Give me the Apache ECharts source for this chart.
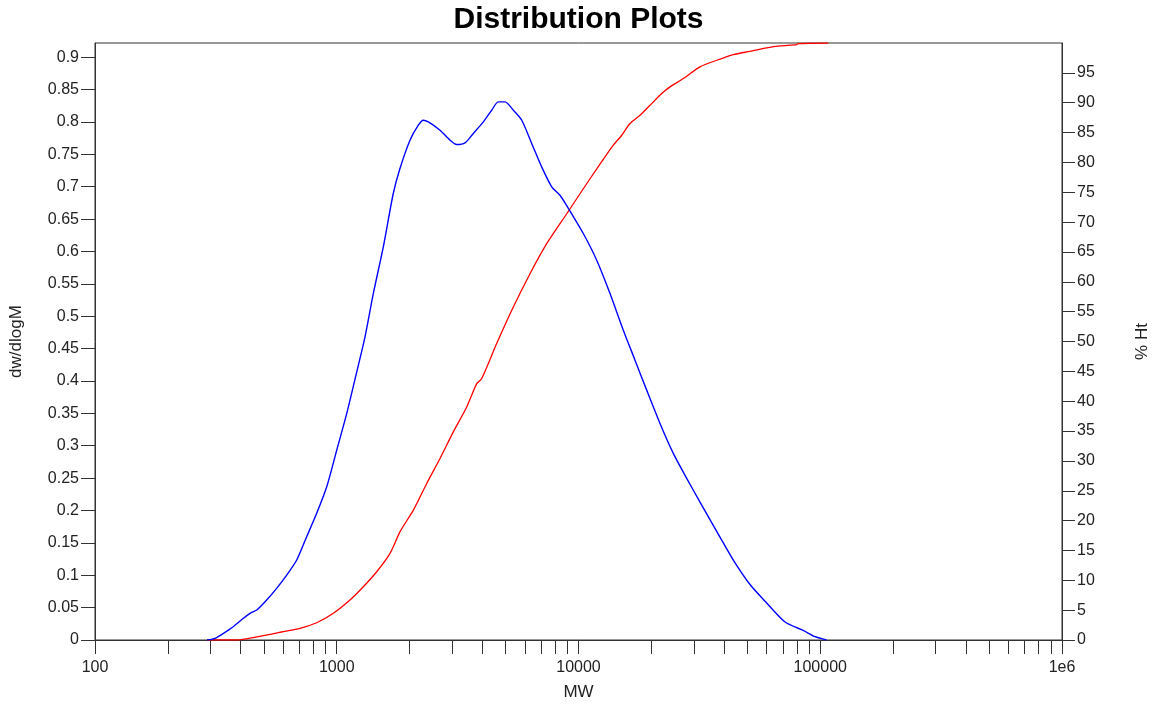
<!DOCTYPE html>
<html>
<head>
<meta charset="utf-8">
<script src="https://cdn.jsdelivr.net/npm/echarts@6/dist/echarts.min.js"></script>
<style>
html,body{margin:0;padding:0;background:#fff;}
#chart{width:1157px;height:707px;}
</style>
</head>
<body>
<div id="chart"></div>
<script>
// MW values (x) and dw/dlogM values for the blue curve
const blueMW = [291, 314, 340, 373, 411, 438, 467, 513, 564, 621, 683, 751, 826, 909, 1000, 1100, 1190, 1309, 1417, 1558, 1713, 1826, 2009, 2175, 2280, 2392, 2674, 2941, 3135, 3393, 3672, 4039, 4375, 4660, 4966, 5375, 5824, 6404, 7043, 7749, 8383, 9223, 10469, 11894, 13501, 15324, 17130, 19148, 21736, 24671, 28030, 31810, 38480, 43690, 51420, 59410, 71290, 85410, 95210, 106220];
const blueVal = [0, 0.0026, 0.0103, 0.0205, 0.0335, 0.0412, 0.0463, 0.0617, 0.0798, 0.1003, 0.1235, 0.1595, 0.1956, 0.2366, 0.2933, 0.3500, 0.4029, 0.4682, 0.5352, 0.6071, 0.6896, 0.7282, 0.7719, 0.7950, 0.8027, 0.8001, 0.7873, 0.7719, 0.7652, 0.7677, 0.7822, 0.8001, 0.8182, 0.8310, 0.8310, 0.8182, 0.8027, 0.7668, 0.7306, 0.6998, 0.6869, 0.6625, 0.6278, 0.5866, 0.5352, 0.4785, 0.4322, 0.3859, 0.3345, 0.2882, 0.2496, 0.2130, 0.1590, 0.1235, 0.0849, 0.0591, 0.0282, 0.0144, 0.0051, 0];

// MW values (x) and cumulative % Ht for the red curve
const redMW = [291, 387, 457, 601, 705, 826, 968, 1134, 1288, 1463, 1661, 1826, 2074, 2356, 2674, 3035, 3448, 3793, 3977, 4587, 5375, 6301, 7387, 8940, 10144, 11894, 12875, 13931, 15094, 16331, 17965, 19761, 22091, 23903, 27139, 31810, 37301, 43690, 51220, 60060, 68170, 79950, 81170, 107960];
const redVal = [0, 0, 0.45, 1.39, 1.96, 2.89, 4.47, 6.69, 8.92, 11.43, 14.51, 18.12, 21.75, 26.22, 30.40, 34.86, 39.04, 42.95, 43.79, 49.65, 55.77, 61.36, 66.38, 71.40, 74.75, 78.93, 80.94, 82.88, 84.55, 86.51, 87.90, 89.57, 91.53, 92.65, 94.04, 96.00, 97.11, 98.06, 98.61, 99.18, 99.51, 99.73, 99.90, 100];

// Axis ticks and labels
const xTickValues = [100,200,300,400,500,600,700,800,900,1000,2000,3000,4000,5000,6000,7000,8000,9000,10000,20000,30000,40000,50000,60000,70000,80000,90000,100000,200000,300000,400000,500000,600000,700000,800000,900000,1000000];
const xLabelValues = [100, 1000, 10000, 100000, 1000000];
const xLabelTexts = ['100', '1000', '10000', '100000', '1e6'];
const leftTicks = [0,0.05,0.1,0.15,0.2,0.25,0.3,0.35,0.4,0.45,0.5,0.55,0.6,0.65,0.7,0.75,0.8,0.85,0.9];
const rightTicks = [0,5,10,15,20,25,30,35,40,45,50,55,60,65,70,75,80,85,90,95];

const blueData = blueMW.map((m, i) => [m, blueVal[i]]);
const redData = redMW.map((m, i) => [m, redVal[i]]);

const FONT = 'Liberation Sans, Arial, sans-serif';
const axisColor = '#333';
const labelStyle = { color: '#222', fontSize: 16, fontFamily: FONT };
const nameStyle = { color: '#222', fontSize: 17, fontFamily: FONT };

const chart = echarts.init(document.getElementById('chart'), null, { renderer: 'canvas' });
chart.setOption({
  animation: false,
  backgroundColor: '#fff',
  title: {
    text: 'Distribution Plots',
    left: 'center',
    top: 0,
    textStyle: { fontSize: 30, fontWeight: 'bold', color: '#000', fontFamily: FONT }
  },
  grid: {
    left: 95, right: 95, top: 43, bottom: 67,
    containLabel: false,
    outerBoundsMode: 'none',
    show: true, borderColor: axisColor, borderWidth: 1, backgroundColor: 'transparent'
  },
  xAxis: {
    type: 'log',
    logBase: 10,
    min: 100,
    max: 1000000,
    name: 'MW',
    nameLocation: 'middle',
    nameGap: 44,
    nameTextStyle: nameStyle,
    axisLine: { show: true, lineStyle: { color: axisColor, width: 1 } },
    axisTick: { show: true, length: 14, customValues: xTickValues, lineStyle: { color: axisColor } },
    axisLabel: Object.assign({
      margin: 20,
      customValues: xLabelValues,
      formatter: function (v) {
        const idx = xLabelValues.findIndex(x => Math.abs(x - v) / x < 1e-6);
        return idx >= 0 ? xLabelTexts[idx] : '';
      }
    }, labelStyle),
    splitLine: { show: false },
    minorTick: { show: false },
    minorSplitLine: { show: false }
  },
  yAxis: [
    {
      type: 'value',
      min: 0,
      max: 0.922,
      position: 'left',
      name: 'dw/dlogM',
      nameLocation: 'middle',
      nameRotate: 90,
      nameGap: 70,
      nameTextStyle: nameStyle,
      axisLine: { show: true, lineStyle: { color: axisColor } },
      axisTick: { show: true, length: 14, customValues: leftTicks, lineStyle: { color: axisColor } },
      axisLabel: Object.assign({ margin: 16, customValues: leftTicks }, labelStyle),
      splitLine: { show: false }
    },
    {
      type: 'value',
      min: 0,
      max: 100,
      position: 'right',
      name: '% Ht',
      nameLocation: 'middle',
      nameRotate: 90,
      nameGap: 72,
      nameTextStyle: nameStyle,
      axisLine: { show: true, lineStyle: { color: axisColor } },
      axisTick: { show: true, length: 13, customValues: rightTicks, lineStyle: { color: axisColor } },
      axisLabel: Object.assign({ margin: 15, customValues: rightTicks }, labelStyle),
      splitLine: { show: false }
    }
  ],
  series: [
    {
      name: 'dw/dlogM',
      type: 'line',
      yAxisIndex: 0,
      data: blueData,
      showSymbol: false,
      smooth: 0.25,
      lineStyle: { color: '#0000ff', width: 1.4 },
      itemStyle: { color: '#0000ff' },
      z: 3
    },
    {
      name: '% Ht',
      type: 'line',
      yAxisIndex: 1,
      data: redData,
      showSymbol: false,
      smooth: 0.25,
      lineStyle: { color: '#ff0000', width: 1.3 },
      itemStyle: { color: '#ff0000' },
      z: 2
    }
  ]
});
</script>
</body>
</html>
